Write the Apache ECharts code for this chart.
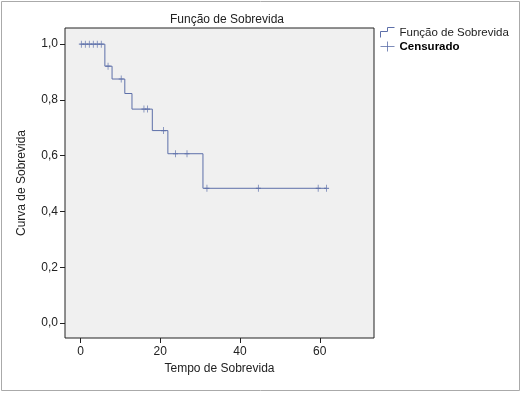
<!DOCTYPE html>
<html>
<head>
<meta charset="utf-8">
<script src="https://cdn.jsdelivr.net/npm/echarts@6/dist/echarts.min.js"></script>
<style>
  html, body { margin: 0; padding: 0; background: #fff; }
  #chart { width: 522px; height: 394px; }
</style>
</head>
<body>
<div id="chart"></div>
<script>
// Kaplan-Meier steps (time of event, survival after event)
const eventTimes = [0, 6.1, 7.9, 11.1, 12.9, 18.0, 21.9, 30.7, 61.7];
const survival = [1.0, 0.921, 0.875, 0.823, 0.767, 0.690, 0.607, 0.483, 0.483];

// censored observations
const censorTimes = [0.2, 1.2, 2.2, 3.2, 4.2, 5.2, 6.9, 10.2, 15.9, 16.8, 20.8, 23.8, 26.7, 31.7, 44.6, 59.6, 61.7];
const censorSurv = [1.0, 1.0, 1.0, 1.0, 1.0, 1.0, 0.921, 0.875, 0.767, 0.767, 0.690, 0.607, 0.607, 0.483, 0.483, 0.483, 0.483];

const xTicks = [0, 20, 40, 60];
const yTicks = [0, 0.2, 0.4, 0.6, 0.8, 1.0];

const lineColor = "#5d6fa9";
const font = "Liberation Sans, Arial, sans-serif";
const plusPath = "path://M0,5L10,5M5,0L5,10";

const chart = echarts.init(document.getElementById("chart"));

chart.setOption({
  backgroundColor: "#fff",
  animation: false,
  title: {
    text: "Função de Sobrevida",
    left: 222,
    textAlign: "center",
    top: 9,
    textStyle: { fontFamily: font, fontSize: 12, fontWeight: "normal", color: "#222" }
  },
  graphic: [{
    type: "rect",
    shape: { x: 1.5, y: 1.5, width: 518, height: 389 },
    style: { fill: "none", stroke: "#aaa", lineWidth: 1 },
    silent: true,
    z: -1
  }],
  legend: {
    left: 378,
    top: 25,
    padding: 0,
    orient: "vertical",
    itemGap: -1,
    itemWidth: 14,
    itemHeight: 10,
    textStyle: { fontFamily: font, fontSize: 11.5, color: "#222" },
    data: [
      {
        name: "Função de Sobrevida",
        icon: "path://M0,10L0,4L7,4L7,0L14,0",
        itemStyle: { color: "none", borderColor: lineColor, borderWidth: 1 }
      },
      {
        name: "Censurado",
        icon: "path://M0,5L14,5M7,0L7,10",
        itemStyle: { color: "none", borderColor: lineColor, borderWidth: 1 },
        textStyle: { fontWeight: "bold", color: "#000" }
      }
    ]
  },
  grid: {
    left: 65,
    top: 28,
    width: 309,
    height: 310,
    show: true,
    backgroundColor: "#f0f0f0",
    borderColor: "#222",
    borderWidth: 1
  },
  xAxis: {
    type: "value",
    min: -3.9,
    max: 73.6,
    name: "Tempo de Sobrevida",
    nameLocation: "middle",
    nameGap: 23,
    nameTextStyle: { fontFamily: font, fontSize: 12, color: "#222" },
    axisLine: { show: false, onZero: false },
    splitLine: { show: false },
    axisTick: { show: true, inside: false, length: 5, customValues: xTicks, lineStyle: { color: "#222" } },
    axisLabel: { customValues: xTicks, fontFamily: font, fontSize: 12, color: "#222", margin: 8 }
  },
  yAxis: {
    type: "value",
    min: -0.054,
    max: 1.058,
    name: "Curva de Sobrevida",
    nameLocation: "middle",
    nameGap: 37,
    nameTextStyle: { fontFamily: font, fontSize: 12, color: "#222" },
    axisLine: { show: false, onZero: false },
    splitLine: { show: false },
    axisTick: { show: true, inside: false, length: 5, customValues: yTicks, lineStyle: { color: "#222" } },
    axisLabel: {
      customValues: yTicks,
      fontFamily: font, fontSize: 12, color: "#222", margin: 7,
      formatter: v => v.toFixed(1).replace(".", ",")
    }
  },
  series: [
    {
      name: "Função de Sobrevida",
      type: "line",
      step: "end",
      data: eventTimes.map((t, i) => [t, survival[i]]),
      symbol: "none",
      lineStyle: { color: lineColor, width: 1 },
      itemStyle: { color: lineColor }
    },
    {
      name: "Censurado",
      type: "scatter",
      data: censorTimes.map((t, i) => [t, censorSurv[i]]),
      symbol: plusPath,
      symbolSize: [5, 7],
      itemStyle: { color: "none", borderColor: lineColor, borderWidth: 1 }
    }
  ]
});
</script>
</body>
</html>
